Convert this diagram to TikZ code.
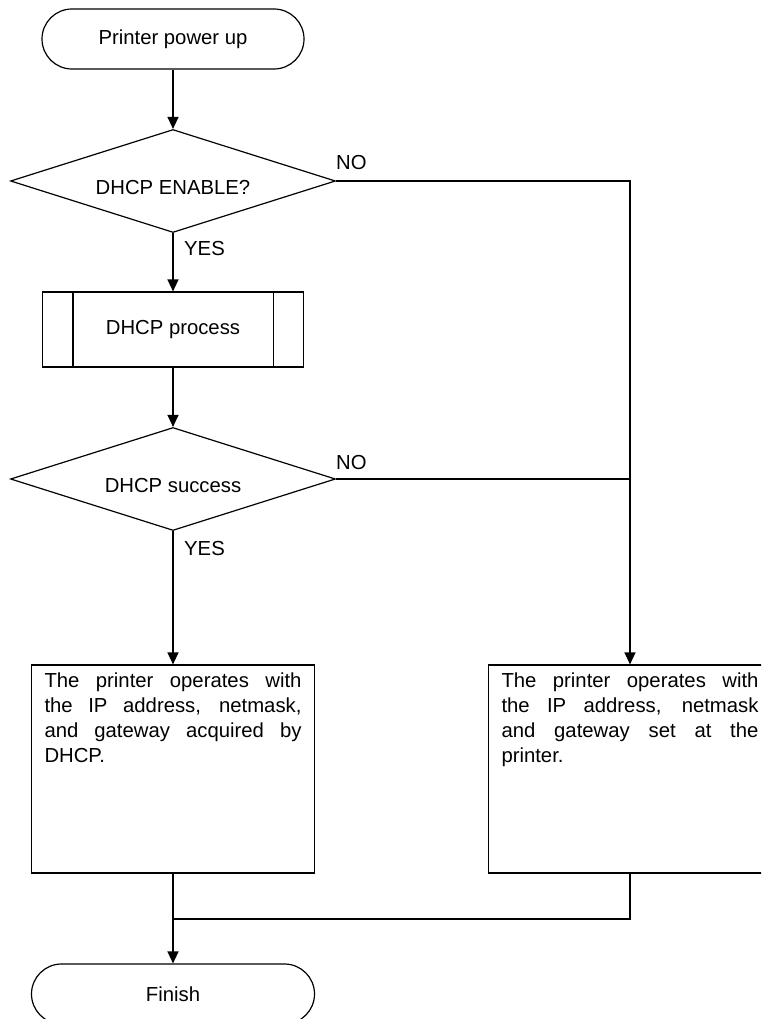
\documentclass[tikz,border=0pt]{standalone}
\usepackage{fontspec}
\setmainfont{Liberation Sans}
\usetikzlibrary{shapes.geometric,shapes.misc,arrows.meta}
\newcommand{\justline}[1]{\makebox[\linewidth][s]{#1}\\}
\begin{document}
\begin{tikzpicture}[x=1pt,y=-1pt,
  every node/.style={font=\fontsize{20.3}{25}\selectfont},
  terminal/.style={draw, line width=1.2pt, rounded rectangle, minimum height=60pt, inner sep=0pt},
  decision/.style={draw, line width=1.2pt, diamond, shape aspect=3.16, inner sep=0pt, minimum width=325pt, minimum height=103pt, text height=26pt, text depth=0pt},
  process/.style={draw, line width=1.2pt, rectangle, minimum width=261pt, minimum height=75pt},
  textbox/.style={draw, line width=1.2pt, rectangle, inner xsep=13pt, inner ysep=8pt},
  conn/.style={line width=1.3pt},
  arrow/.style={conn, -{Triangle[width=11pt,length=12pt]}},
  lbl/.style={anchor=west, inner sep=0pt}
]
\useasboundingbox (0,0) rectangle (761,1019);
\clip (0,0) rectangle (761,1019);

\node[terminal, minimum width=262pt] (start) at (173,39) {Printer power up};
\node[decision] (d1) at (173,181) {DHCP ENABLE?};
\node[process] (proc) at (173,329.5) {DHCP process};
\draw[line width=1.2pt] ([xshift=31pt]proc.north west) -- ([xshift=31pt]proc.south west);
\draw[line width=1.2pt] ([xshift=-31pt]proc.north east) -- ([xshift=-31pt]proc.south east);
\node[decision] (d2) at (173,479) {DHCP success};

\node[textbox] (box1) at (173,769) {\parbox[c][192pt][t]{257pt}{%
\justline{The printer operates with}%
\justline{the IP address, netmask,}%
\justline{and gateway acquired by}%
DHCP.}};
\node[textbox] (box2) at (630,769) {\parbox[c][192pt][t]{257pt}{%
\justline{The printer operates with}%
\justline{the IP address, netmask}%
\justline{and gateway set at the}%
printer.}};

\node[terminal, minimum width=283pt] (finish) at (173,994) {Finish};

\coordinate (jn) at (173,919);

\node[lbl] (no1) at (336,163) {NO};
\node[lbl] (yes1) at (184,249) {YES};
\node[lbl] (no2) at (336,463) {NO};
\node[lbl] (yes2) at (184,549) {YES};

\draw[arrow] (start.south) -- (d1.north);
\draw[arrow] (d1.south) -- (proc.north);
\draw[arrow] (proc.south) -- (d2.north);
\draw[arrow] (d2.south) -- (box1.north);
\draw[arrow] (d1.east) -| (box2.north);
\draw[conn] (d2.east) -- (d2.east -| box2.north);
\draw[arrow] (box1.south) -- (finish.north);
\draw[conn] (box2.south) |- (jn);
\end{tikzpicture}
\end{document}
